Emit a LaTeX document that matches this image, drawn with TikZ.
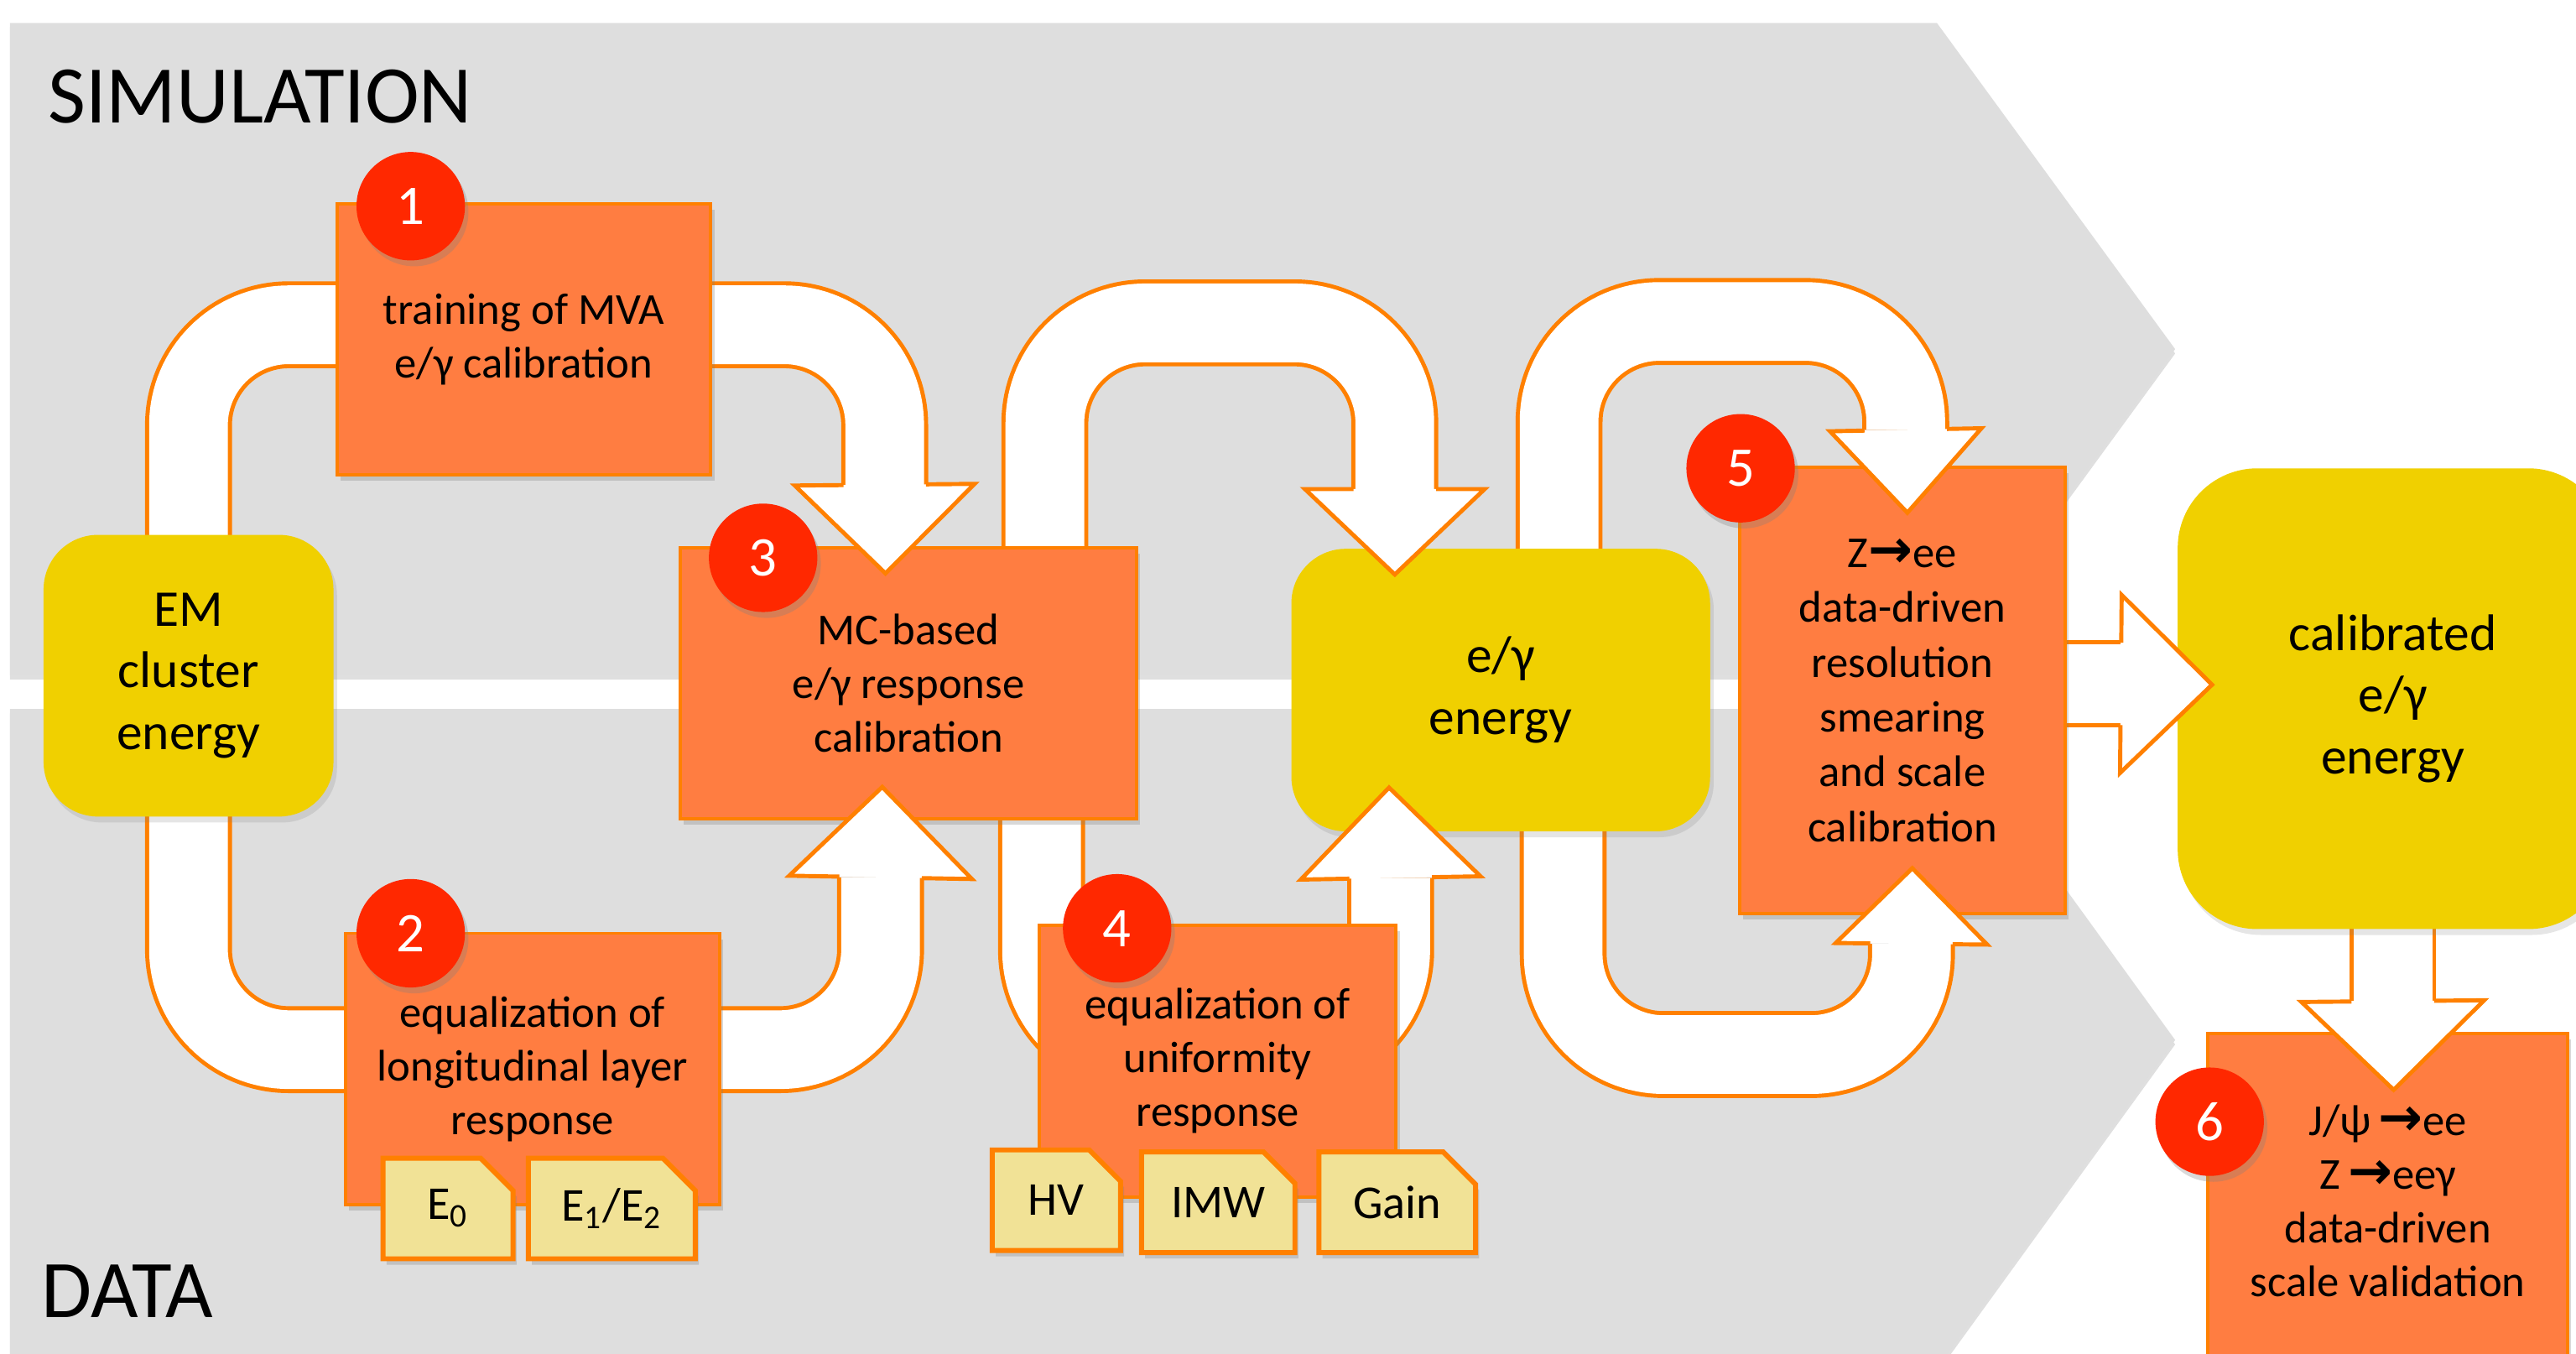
\documentclass[tikz,border=0pt]{standalone}
\usepackage{fontspec}
\setmainfont{Carlito}
\newfontfamily\arrowfont{DejaVu Sans}
\usepackage{xcolor}
\usepackage{tikz}
\usetikzlibrary{calc,positioning,shapes.misc,shadows}

\definecolor{bandgray}{RGB}{222,222,222}
\definecolor{lineorange}{RGB}{255,128,0}
\definecolor{boxorange}{RGB}{255,125,65}
\definecolor{boxyellow}{RGB}{240,208,0}
\definecolor{tagyellow}{RGB}{241,226,150}
\definecolor{badgered}{RGB}{255,40,0}

\pgfdeclarelayer{bands}
\pgfdeclarelayer{pipes}
\pgfsetlayers{bands,pipes,main}

\newcommand{\ra}{{\arrowfont\bfseries\fontsize{18}{18}\selectfont\symbol{"2192}}}
% white arrow head on the end of a pipe: base, tip, half width of the head
\newcommand{\pipeHead}[3]
{
	\fill[white] ($(#1)!#3!90:(#2)$) -- (#2) -- ($(#1)!#3!-90:(#2)$) -- cycle;
	\draw[pipe edge] ($(#1)!14pt!90:(#2)$) -- ($(#1)!#3!90:(#2)$) -- (#2)
		-- ($(#1)!#3!-90:(#2)$) -- ($(#1)!14pt!-90:(#2)$);
}

\begin{document}
\begin{tikzpicture}[x=0.019585cm, y=-0.019585cm,
	every node/.style={align=center, inner sep=0pt, font=\fontsize{15}{18.2}\selectfont},
	band/.style={fill=bandgray, drop shadow={shadow xshift=0pt, shadow yshift=-1.5pt, opacity=.25}},
	stage/.style 2 args={rectangle, draw=lineorange, line width=1.1pt, fill=boxorange,
		minimum width=#1, minimum height=#2, drop shadow={shadow xshift=1.2pt, shadow yshift=-2pt, opacity=.3}},
	energy/.style 2 args={rectangle, rounded corners=0.65cm, fill=boxyellow,
		minimum width=#1, minimum height=#2, font=\fontsize{17.5}{21}\selectfont,
		drop shadow={shadow xshift=1.2pt, shadow yshift=-2pt, opacity=.2}},
	subtag/.style={chamfered rectangle, chamfered rectangle corners=north east, chamfered rectangle sep=5.5pt,
		draw=lineorange, line width=1.7pt, fill=tagyellow, minimum width=#1, minimum height=1.2cm,
		font=\fontsize{16}{16}\selectfont, drop shadow={shadow xshift=1.2pt, shadow yshift=-2pt, opacity=.3}},
	badge/.style={circle, fill=badgered, minimum size=1.293cm, text=white, font=\fontsize{19}{19}\selectfont,
		drop shadow={shadow xshift=1.2pt, shadow yshift=-2pt, opacity=.3}},
	pipe/.style={draw=lineorange, line width=1.4pt, double=white, double distance=26.7pt, rounded corners=34pt},
	pipe edge/.style={draw=lineorange, line width=1.4pt},
	bandlabel/.style={anchor=west, font=\fontsize{27.8}{30}\selectfont}
	]
\useasboundingbox (0,0) rectangle (1568,824);
\clip (0,0) rectangle (1568,824);

% simulation and data bands
\begin{pgfonlayer}{bands}
	\clip (0,0) rectangle (1568,824);
	\path[band] (6,14) -- (1179,14) -- (1324,212.5) -- (1179,411) -- (6,411) -- cycle;
	\path[band] (6,431.5) -- (1178,431.5) -- (1324,633) -- (1178,834.5) -- (6,834.5) -- cycle;
\end{pgfonlayer}

\node[bandlabel] (sim) at (29,59) {SIMULATION};
\node[bandlabel] (dat) at (25,786) {DATA};

% energies
\node[energy={3.457cm}{3.359cm}] (em) at (114.75,411.25) {EM\\cluster\\energy};
\node[energy={4.994cm}{3.369cm}] (egy) at (913.5,420) {e/γ\\energy};
\node[energy={5.131cm}{5.494cm}, rounded corners=0.95cm] (cal) at (1456.5,425.25) {calibrated\\e/γ\\energy};

% calibration steps
\node[stage={4.459cm}{3.232cm}] (mva) at (318.85,206.5) {training of MVA\\e/γ calibration};
\node[stage={4.459cm}{3.232cm}] (lon) at (324.15,650.5) {equalization of\\longitudinal layer\\response};
\node[stage={5.445cm}{3.233cm}] (mc) at (553,416) {MC-based\\e/γ response\\calibration};
\node[stage={4.254cm}{3.243cm}] (uni) at (741.2,645.8) {equalization of\\uniformity\\response};
\node[stage={3.878cm}{5.317cm}, font=\fontsize{15}{18.6}\selectfont] (res) at (1158,420.25)
	{Z\ra ee\\data-driven\\resolution\\smearing\\and scale\\calibration};
\node[stage={4.289cm}{3.995cm}] (val) at (1453.5,731) {J/ψ\,\ra ee\\Z\,\ra eeγ\\data-driven\\scale validation};

% inputs
\node[subtag=1.55cm] (e0) at (272.7,735.5) {E\textsubscript{0}};
\node[subtag=1.99cm] (e12) at (372.4,735.5) {E\textsubscript{1}/E\textsubscript{2}};
\node[subtag=1.53cm] (hv) at (643,730.5) {HV};
\node[subtag=1.83cm] (imw) at (741.5,731.75) {IMW};
\node[subtag=1.87cm] (gain) at (850.5,731.75) {Gain};

\node[badge] (n1) at (250,125.5) {1};
\node[badge] (n2) at (250,568) {2};
\node[badge] (n3) at (464.5,339.5) {3};
\node[badge] (n4) at (680,565) {4};
\node[badge] (n5) at (1059.5,285) {5};
\node[badge] (n6) at (1345,682.7) {6};

% arrow heads: base and tip
\coordinate (hA) at ($(mc.north)+(-14.5,-37.5)$);
\coordinate (tA) at ($(mc.north)+(-14,16.5)$);
\coordinate (hB) at ($(mc.south)+(-17,34.5)$);
\coordinate (tB) at ($(mc.south)+(-16,-20.5)$);
\coordinate (hC) at ($(egy.north)+(-64.5,-36)$);
\coordinate (tC) at ($(egy.north)+(-64.5,16)$);
\coordinate (hD) at ($(egy.south)+(-67,28)$);
\coordinate (tD) at ($(egy.south)+(-68,-27)$);
\coordinate (hE) at ($(res.north)+(2,-22)$);
\coordinate (tE) at ($(res.north)+(3,28.5)$);
\coordinate (hF) at ($(res.south)+(5.5,17.5)$);
\coordinate (tF) at ($(res.south)+(6,-28.5)$);
\coordinate (hG) at ($(res.east)+(33,-4)$);
\coordinate (tG) at ($(res.east)+(88.5,-3.5)$);
\coordinate (hH) at ($(cal.south)+(0,43.5)$);
\coordinate (tH) at ($(cal.south)+(0.5,97.5)$);

\begin{pgfonlayer}{pipes}
	\draw[pipe] ($(em.north)+(0,8)$) -- ++(0,-135.5) -| (hA);
	\draw[pipe] ($(em.south)+(0,-8)$) -- ++(0,149.5) -| (hB);
	\draw[pipe] ($(mc.north)+(83,8)$) -- ++(0,-144) -| (hC);
	\draw[pipe] ($(mc.south)+(81,-8)$) -- ++(0,148) -| (hD);
	\draw[pipe] ($(egy.north)+(35.5,8)$) -- ++(0,-146) -| (hE);
	\draw[pipe] ($(egy.south)+(38,-8)$) -- ++(0,143.5) -| (hF);
	\draw[pipe] ($(res.east)+(-8,-4)$) -- (hG);
	\draw[pipe] ($(cal.south)+(0,-8)$) -- (hH);
\end{pgfonlayer}

\pipeHead{hA}{tA}{30.5pt}
\pipeHead{hB}{tB}{31pt}
\pipeHead{hC}{tC}{30.5pt}
\pipeHead{hD}{tD}{30.5pt}
\pipeHead{hE}{tE}{25.7pt}
\pipeHead{hF}{tF}{25.7pt}
\pipeHead{hG}{tG}{30.2pt}
\pipeHead{hH}{tH}{31pt}
\end{tikzpicture}
\end{document}
